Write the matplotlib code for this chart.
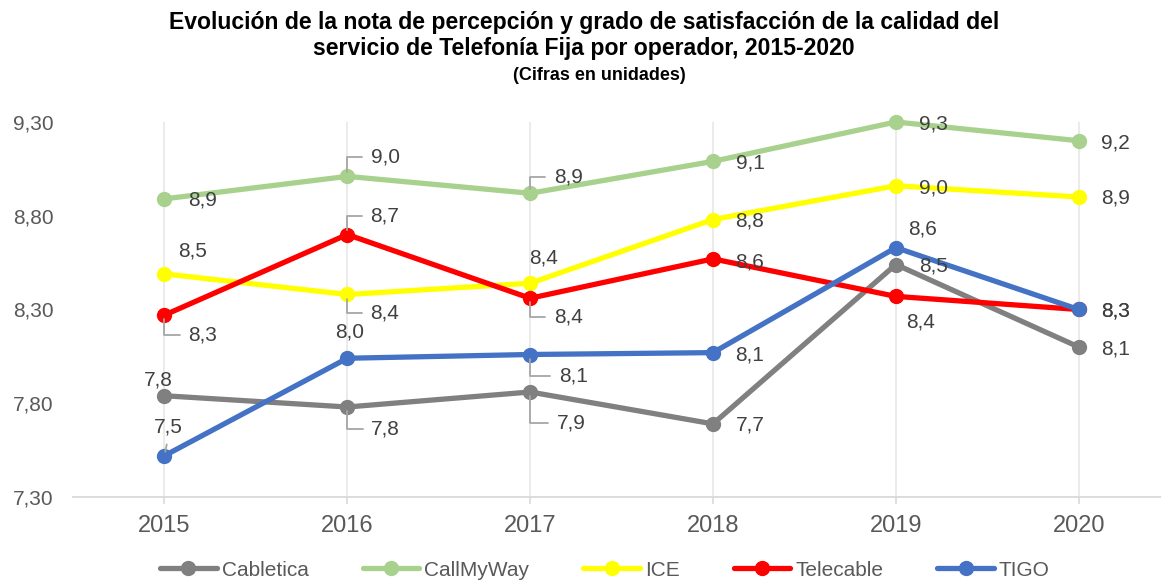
import matplotlib
matplotlib.use("Agg")
import matplotlib.pyplot as plt

plt.rcParams['font.family'] = ['Liberation Sans', 'DejaVu Sans']

years = ["2015", "2016", "2017", "2018", "2019", "2020"]
series_names = ["Cabletica", "CallMyWay", "ICE", "Telecable", "TIGO"]
cabletica = [7.84, 7.78, 7.86, 7.69, 8.54, 8.10]
callmyway = [8.89, 9.01, 8.92, 9.09, 9.30, 9.20]
ice = [8.49, 8.38, 8.44, 8.78, 8.96, 8.90]
telecable = [8.27, 8.70, 8.36, 8.57, 8.37, 8.30]
tigo = [7.52, 8.04, 8.06, 8.07, 8.63, 8.30]
y_ticks = [7.30, 7.80, 8.30, 8.80, 9.30]

colors = ["#808080", "#a9d18e", "#ffff00", "#ff0000", "#4472c4"]

# label offsets in pixels (dx, dy) and leader type
label_style = {
    "Cabletica": [(-6, 16, None), (38, -22, "elbow_down"), (41, -31, "elbow_down"),
                  (37, -1, None), (38, -1, None), (37, -2, None)],
    "CallMyWay": [(38, -1, None), (38, 19, "elbow_up"), (38, 16, "elbow_up"),
                  (37, -2, None), (38, -2, None), (37, -2, None)],
    "ICE": [(28, 23, None), (37, -19, "elbow_down"), (13, 25, None),
            (37, -1, None), (38, -2, None), (37, -1, None)],
    "Telecable": [(38, -20, "elbow_down"), (37, 19, "elbow_up"), (38, -19, "elbow_down"),
                  (37, -3, None), (25, -26, None), (37, -2, None)],
    "TIGO": [(4, 29, "straight"), (2, 26, None), (43, -21, "elbow_down"),
             (37, -2, None), (27, 19, None), (37, -2, None)],
}

data = [cabletica, callmyway, ice, telecable, tigo]

fig = plt.figure(figsize=(11.61, 5.82), dpi=100)
ax = fig.add_axes([73 / 1161, 1 - 497 / 582, 1 - 73 / 1161, (497 - 122) / 582])

x = list(range(len(years)))
for name, vals, col in zip(series_names, data, colors):
    ax.plot(x, vals, color=col, lw=3.8, marker='o', markersize=10,
            solid_capstyle='round', label=name, zorder=3, clip_on=False)

for name, vals in zip(series_names, data):
    for xi, v, (dx, dy, lead) in zip(x, vals, label_style[name]):
        txt = format(v, '.1f').replace('.', ',')
        kw = {}
        if lead in ("elbow_up", "elbow_down"):
            kw['arrowprops'] = dict(arrowstyle='-', color='#a6a6a6', lw=1.3,
                                    connectionstyle='angle,angleA=0,angleB=90,rad=0',
                                    relpos=(0, 0.5), shrinkA=4, shrinkB=3)
        elif lead == "straight":
            kw['arrowprops'] = dict(arrowstyle='-', color='#a6a6a6', lw=1.3,
                                    relpos=(0.5, 0), shrinkA=4, shrinkB=3)
        ax.annotate(txt, xy=(xi, v), xytext=(dx, dy), textcoords='offset pixels',
                    ha='center', va='center', fontsize=15, color='#404040',
                    zorder=5, annotation_clip=False, **kw)

ax.set_xlim(-0.5, 5.45)
ax.set_ylim(7.30, 9.30)
ax.set_xticks(x)
ax.set_xticklabels(years)
ax.set_yticks(y_ticks)
ax.set_yticklabels([format(t, '.2f').replace('.', ',') for t in y_ticks])
ax.tick_params(axis='x', length=5, color='#d9d9d9', width=1.2, pad=8,
               labelsize=17, labelcolor='#595959')
ax.tick_params(axis='y', length=0, pad=14, labelsize=15, labelcolor='#595959')
ax.grid(axis='x', color='#e8e8e8', lw=1.2, zorder=0)
for s in ['top', 'right', 'left']:
    ax.spines[s].set_visible(False)
ax.spines['bottom'].set_color('#d9d9d9')
ax.spines['bottom'].set_linewidth(1.3)

cx = 584 / 1161
fig.text(cx, 1 - 23 / 582, "Evolución de la nota de percepción y grado de satisfacción de la calidad del",
         ha='center', va='center', fontsize=16.6, fontweight='bold', color='black')
fig.text(cx, 1 - 49 / 582, "servicio de Telefonía Fija por operador, 2015-2020",
         ha='center', va='center', fontsize=16.6, fontweight='bold', color='black')
fig.text(cx + 15 / 1161, 1 - 76 / 582, "(Cifras en unidades)",
         ha='center', va='center', fontsize=13, fontweight='bold', color='black')

leg = fig.legend(loc='center', bbox_to_anchor=(605 / 1161, 1 - 570 / 582), ncol=5,
                 frameon=False, fontsize=15, handlelength=2.7, handletextpad=0.25,
                 columnspacing=2.6, borderaxespad=0)
for t in leg.get_texts():
    t.set_color('#595959')

fig.savefig("out.png", dpi=100)
